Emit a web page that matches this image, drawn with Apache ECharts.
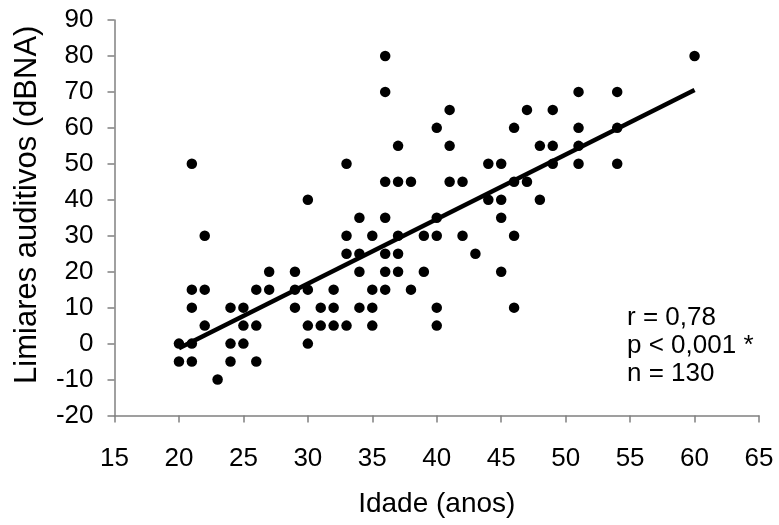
<!DOCTYPE html>
<html>
<head>
<meta charset="utf-8">
<script src="https://cdn.jsdelivr.net/npm/echarts@6/dist/echarts.min.js"></script>
<style>
  html, body { margin: 0; padding: 0; background: #fff; }
  #chart { width: 779px; height: 525px; }
</style>
</head>
<body>
<div id="chart"></div>
<script>
// age (years) and hearing threshold (dBNA)
const ages = [
  21, 30, 22, 27, 29, 21, 22, 26, 27, 29, 30, 21, 24, 25, 29, 22, 25, 26, 30,
  20, 21, 24, 25, 30, 20, 21, 24, 26, 23,
  36, 36, 41, 40, 37, 41, 33, 36, 37, 38, 41, 42, 34, 36, 40, 33, 35, 37, 39,
  40, 42, 33, 34, 36, 37, 34, 36, 37, 39, 32, 35, 36, 38, 31, 32, 34, 35, 40,
  31, 32, 33, 35, 40,
  60, 51, 54, 47, 49, 46, 51, 54, 48, 49, 51, 44, 45, 49, 51, 54, 46, 47, 44,
  45, 48, 45, 46, 43, 45, 46
];
const thresholds = [
  50, 40, 30, 20, 20, 15, 15, 15, 15, 15, 15, 10, 10, 10, 10, 5, 5, 5, 5,
  0, 0, 0, 0, 0, -5, -5, -5, -5, -10,
  80, 70, 65, 60, 55, 55, 50, 45, 45, 45, 45, 45, 35, 35, 35, 30, 30, 30, 30,
  30, 30, 25, 25, 25, 25, 20, 20, 20, 20, 15, 15, 15, 15, 10, 10, 10, 10, 10,
  5, 5, 5, 5, 5,
  80, 70, 70, 65, 65, 60, 60, 60, 55, 55, 55, 50, 50, 50, 50, 50, 45, 45, 40,
  40, 40, 35, 30, 25, 20, 10
];

// regression line end points
const fitAges = [20, 60];
const fitValues = [-1.3, 70.5];

const statsLines = ['r = 0,78', 'p < 0,001 *', 'n = 130'];

const font = 'Liberation Sans, Arial, sans-serif';
const axisGrey = '#808080';

const points = ages.map((a, i) => [a, thresholds[i]]);
const fit = fitAges.map((a, i) => [a, fitValues[i]]);

const chart = echarts.init(document.getElementById('chart'), null, { renderer: 'canvas' });

chart.setOption({
  backgroundColor: '#ffffff',
  animation: false,
  grid: { left: 114.5, right: 20, top: 20, bottom: 109.5, outerBoundsMode: 'none' },
  xAxis: {
    type: 'value',
    min: 15, max: 65, interval: 5,
    name: 'Idade (anos)',
    nameLocation: 'middle',
    nameGap: 75,
    nameTextStyle: { fontFamily: font, fontSize: 28, color: '#000' },
    axisLine: { show: true, onZero: false, lineStyle: { color: axisGrey, width: 1.5 } },
    axisTick: { show: true, length: 7, lineStyle: { color: axisGrey, width: 1.5 } },
    axisLabel: { fontFamily: font, fontSize: 26, color: '#000', margin: 30 },
    splitLine: { show: false }
  },
  yAxis: {
    type: 'value',
    min: -20, max: 90, interval: 10,
    name: 'Limiares auditivos (dBNA)',
    nameLocation: 'middle',
    nameGap: 72,
    nameTextStyle: { fontFamily: font, fontSize: 31, color: '#000', padding: [0, 0, 0, 26] },
    axisLine: { show: true, onZero: false, lineStyle: { color: axisGrey, width: 1.5 } },
    axisTick: { show: true, length: 7, lineStyle: { color: axisGrey, width: 1.5 } },
    axisLabel: { fontFamily: font, fontSize: 26, color: '#000', margin: 21 },
    splitLine: { show: false }
  },
  series: [
    {
      type: 'scatter',
      data: points,
      symbol: 'circle',
      symbolSize: 10.5,
      itemStyle: { color: '#000', opacity: 1 }
    },
    {
      type: 'line',
      data: fit,
      symbol: 'none',
      lineStyle: { color: '#000', width: 4.5 }
    }
  ],
  graphic: [
    {
      type: 'text',
      left: 627,
      top: 304,
      style: {
        text: statsLines.join('\n'),
        font: '26px ' + font,
        lineHeight: 28,
        fill: '#000'
      }
    }
  ]
});
</script>
</body>
</html>
